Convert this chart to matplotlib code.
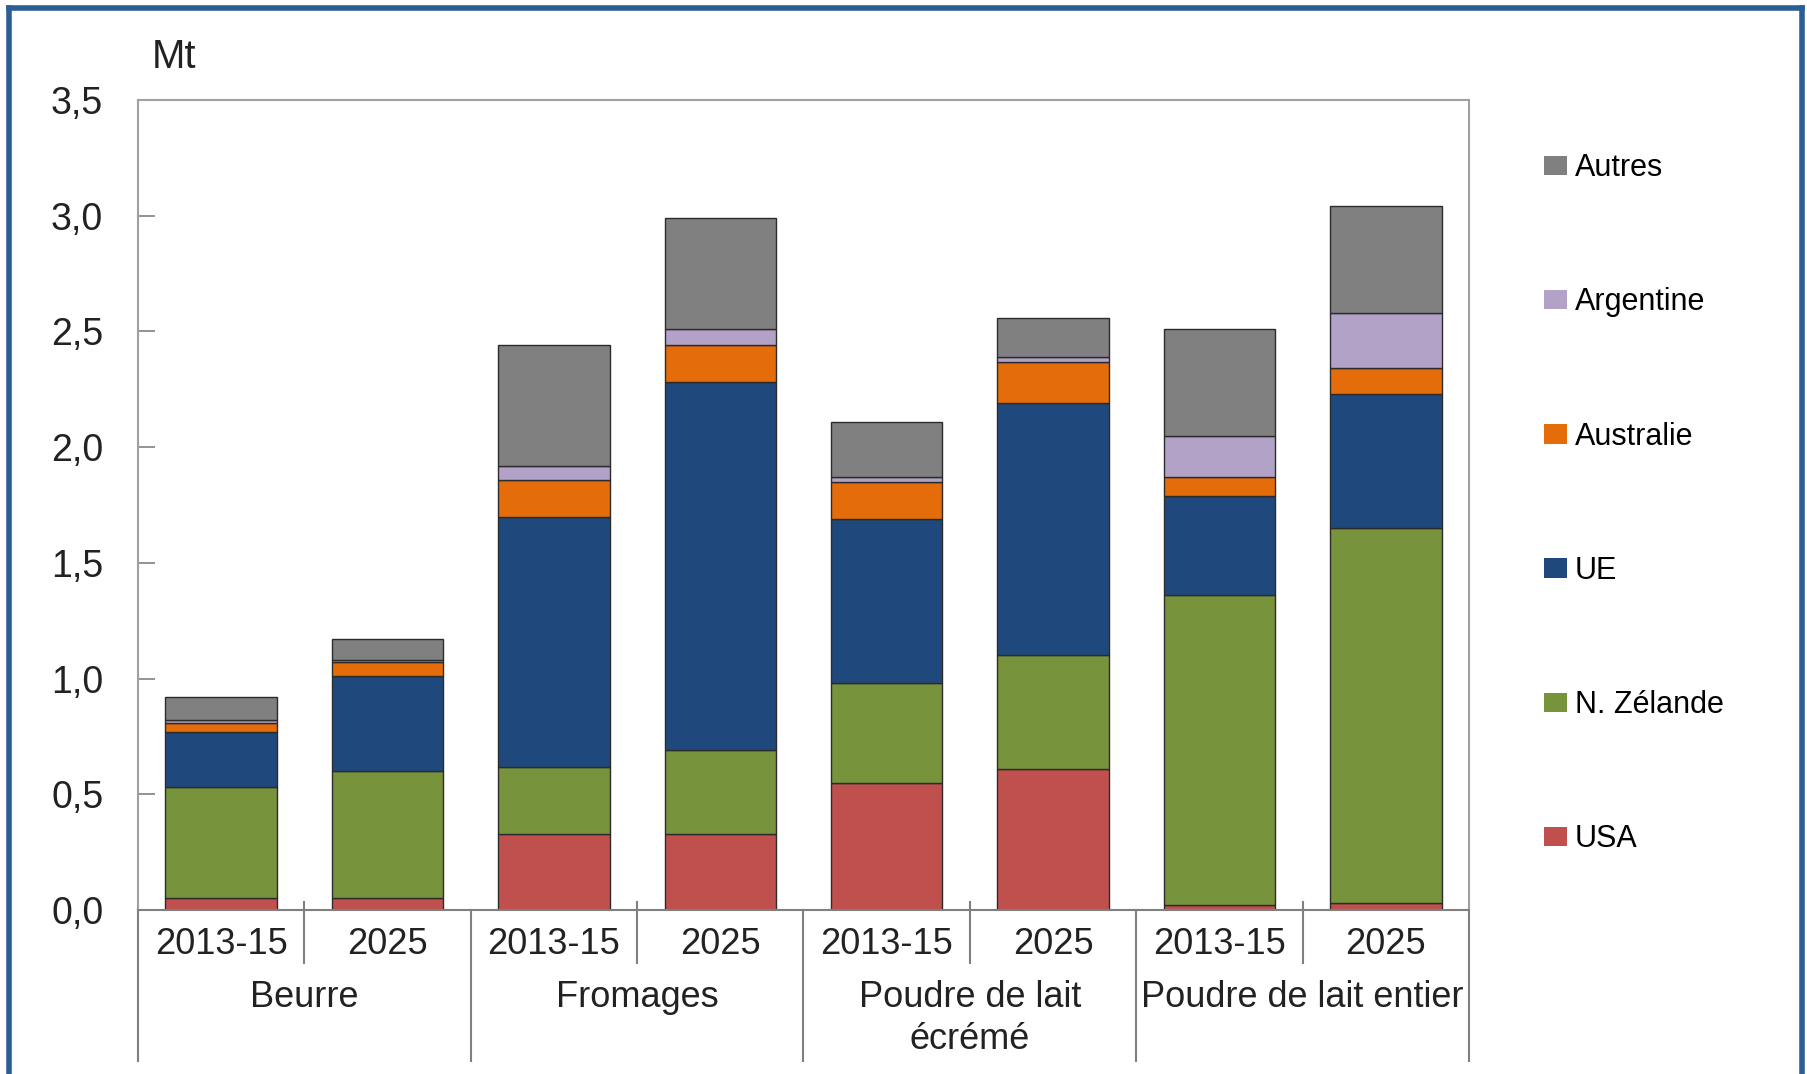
import matplotlib
matplotlib.use("Agg")
import matplotlib.pyplot as plt
from matplotlib.lines import Line2D
from matplotlib.transforms import blended_transform_factory
import numpy as np

plt.rcParams['font.family'] = ['Liberation Sans', 'DejaVu Sans']

groups = ["Beurre", "Fromages", "Poudre de lait\nécrémé", "Poudre de lait entier"]
periods = ["2013-15", "2025"]
series = ["USA", "N. Zélande", "UE", "Australie", "Argentine", "Autres"]
colors = ["#c0504d", "#77933c", "#1f497d", "#e46c0a", "#b3a2c7", "#808080"]

# values in Mt, bar order: Beurre 13-15, Beurre 25, Fromages 13-15, Fromages 25, PLE 13-15, PLE 25, PLEnt 13-15, PLEnt 25
usa       = [0.05, 0.05, 0.33, 0.33, 0.55, 0.61, 0.02, 0.03]
nzelande  = [0.48, 0.55, 0.29, 0.36, 0.43, 0.49, 1.34, 1.62]
ue        = [0.24, 0.41, 1.08, 1.59, 0.71, 1.09, 0.43, 0.58]
australie = [0.04, 0.06, 0.16, 0.16, 0.16, 0.18, 0.08, 0.11]
argentine = [0.01, 0.01, 0.06, 0.07, 0.02, 0.02, 0.18, 0.24]
autres    = [0.10, 0.09, 0.52, 0.48, 0.24, 0.17, 0.46, 0.46]

data = [usa, nzelande, ue, australie, argentine, autres]

W, H = 1808, 1074
fig = plt.figure(figsize=(W/100, H/100), dpi=100)
ax = fig.add_axes([138/W, (H-910)/H, (1469-138)/W, (910-100)/H])

x = np.arange(8)
bottom = np.zeros(8)
handles = []
for vals, col, name in zip(data, colors, series):
    b = ax.bar(x, vals, width=0.67, bottom=bottom, color=col, edgecolor="#2b2b2b",
               linewidth=1.0, label=name, zorder=2)
    handles.append(b)
    bottom += np.array(vals)

ax.set_xlim(-0.5, 7.5)
ax.set_ylim(0, 3.5)
ax.set_yticks(np.arange(0, 3.51, 0.5))
ax.set_yticklabels([f"{v:.1f}".replace(".", ",") for v in np.arange(0, 3.51, 0.5)])
ax.tick_params(axis='y', direction='in', length=12, width=1.2, color="#808080",
               labelsize=27, pad=25, labelcolor="#222222")
ax.tick_params(axis='x', length=0, labelbottom=False)
for s in ['left', 'top', 'right']:
    ax.spines[s].set_color("#a0a0a0")
    ax.spines[s].set_linewidth(1.5)
ax.spines['bottom'].set_color("#808080")
ax.spines['bottom'].set_linewidth(1.5)

tr = blended_transform_factory(ax.transData, ax.transAxes)
# period labels
for i in range(8):
    ax.text(x[i], -0.043, periods[i % 2], transform=tr, ha='center', va='center',
            fontsize=26, color="#222222")
# group labels
for g, name in enumerate(groups):
    ax.text(2*g + 0.5, -0.086, name, transform=tr, ha='center', va='top',
            fontsize=26, color="#222222", linespacing=1.28)
# separators
for xs in [0.5, 2.5, 4.5, 6.5]:
    ax.add_line(Line2D([xs, xs], [0.01, -0.066], transform=tr, color="#808080",
                       lw=1.5, clip_on=False))
for xs in [-0.5, 1.5, 3.5, 5.5, 7.5]:
    ax.add_line(Line2D([xs, xs], [0.0, -0.186], transform=tr, color="#808080",
                       lw=1.5, clip_on=False))

fig.text(152/W, 1 - 57/H, "Mt", fontsize=29, ha='left', va='center', color="#222222")

leg = fig.legend(handles[::-1], series[::-1], loc='upper left',
                 bbox_to_anchor=(1529/W, 1 - 138/H), frameon=False, fontsize=22,
                 handlelength=0.75, handleheight=0.6, handletextpad=0.25,
                 labelspacing=3.41, borderpad=0)
for h in leg.legend_handles:
    h.set_edgecolor("none")

# blue frame
bc = "#2a5e95"
fig.add_artist(Line2D([9/W, 9/W], [0, 1 - 8/H], transform=fig.transFigure, color=bc, lw=4))
fig.add_artist(Line2D([9/W, 1802/W], [1 - 8/H, 1 - 8/H], transform=fig.transFigure, color=bc, lw=4))
fig.add_artist(Line2D([1802/W, 1802/W], [0, 1 - 8/H], transform=fig.transFigure, color=bc, lw=4))

fig.savefig("out.png", dpi=100)
